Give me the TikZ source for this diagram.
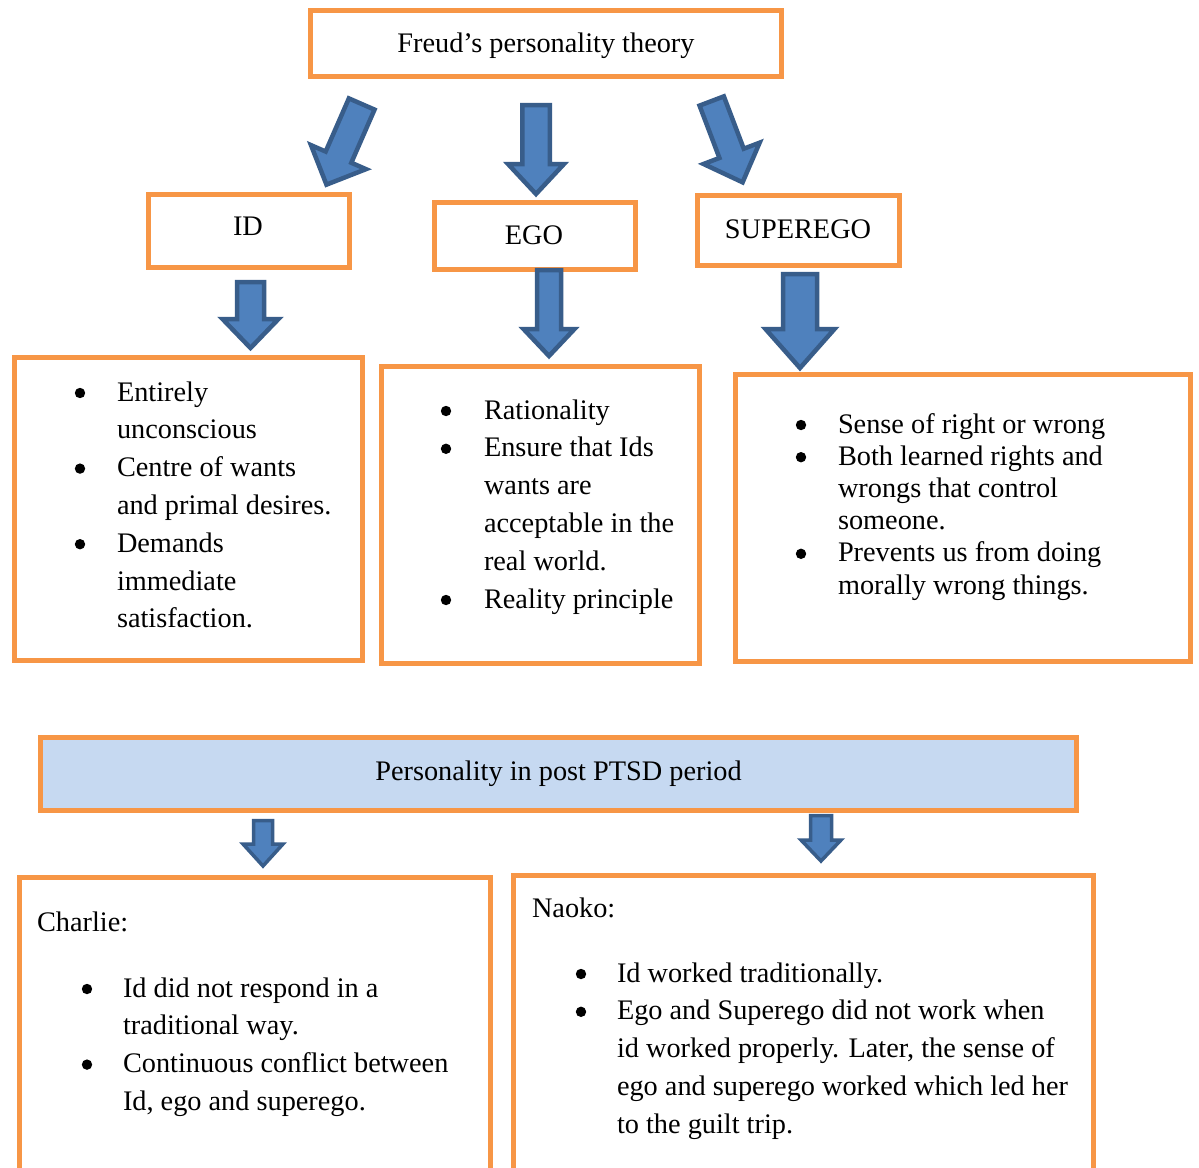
\documentclass[tikz,border=0pt]{standalone}
\usepackage{fontspec}
\setmainfont{Liberation Serif}
\definecolor{orng}{HTML}{F79646}
\definecolor{arrfill}{HTML}{4F81BD}
\definecolor{arrdraw}{HTML}{385D8A}
\definecolor{barfill}{HTML}{C6D9F1}
\newcommand\blockarr[9]{% name, x, y, angle, L, sw, hw, hl, lw
  \begin{scope}[shift={(#2,#3)},rotate=#4]
    \coordinate (#1-tail) at (0,0);
    \coordinate (#1-tip) at (#5,0);
    \draw[arrowsty,line width=#9pt] (0,#6/2) -- (#5-#8,#6/2) -- (#5-#8,#7/2) -- (#1-tip)
      -- (#5-#8,-#7/2) -- (#5-#8,-#6/2) -- (0,-#6/2) -- cycle;
  \end{scope}}
\begin{document}
\begin{tikzpicture}[x=1pt,y=-1pt,
  box/.style={draw=orng,line width=5pt,inner sep=0pt,outer sep=0pt,anchor=north west},
  arrowsty/.style={fill=arrfill,draw=arrdraw,line join=miter},
  dot/.style={fill=black},
  txt/.style={inner sep=0pt,outer sep=0pt,font=\fontsize{28.3}{37.8}\selectfont}]
\useasboundingbox (0,0) rectangle (1199,1167);
\fill[white] (0,0) rectangle (1199,1167);

% top level
\node[box,minimum width=471pt,minimum height=66pt] (freud) at (310,10) {};
\node[txt,anchor=base] (freudt) at (546,52) {Freud’s personality theory};

% arrows from top
\blockarr{a1}{361.7}{104}{246.4}{88}{28}{60}{30}{4.5}
\blockarr{a2}{536}{105}{270}{89}{27.5}{56}{30}{4.5}
\blockarr{a3}{711.7}{101}{290.8}{87}{26}{60}{31}{4.5}

% second level
\node[box,minimum width=201pt,minimum height=73pt] (id) at (148,194) {};
\node[txt,anchor=base] (idt) at (248,235) {ID};
\node[box,minimum width=201pt,minimum height=67pt] (ego) at (434,202) {};
\node[txt,anchor=base] (egot) at (534,244) {EGO};
\node[box,minimum width=202pt,minimum height=70pt] (sup) at (697,195) {};
\node[txt,anchor=base] (supt) at (798,238) {SUPEREGO};

% arrows down
\blockarr{b1}{250.5}{282}{270}{66}{27}{56}{29}{4.5}
\blockarr{b2}{549}{270}{270}{86}{24}{51}{27}{4.5}
\blockarr{b3}{800}{274}{270}{94}{34}{69}{39}{4.5}

% content boxes
\node[box,minimum width=348pt,minimum height=303pt] (idc) at (14,357) {};
\node[txt,anchor=base west] (idct) at (117,401) {\begin{tabular}[t]{@{}l@{}}
Entirely\\ unconscious\\ Centre of wants\\ and primal desires.\\ Demands\\ immediate\\ satisfaction.\end{tabular}};
\foreach \yy in {393,468.6,544.2} \fill[dot] (80,\yy) circle (5.2);

\node[box,minimum width=318pt,minimum height=297pt] (egoc) at (381,366) {};
\node[txt,anchor=base west] (egoct) at (484,419) {\begin{tabular}[t]{@{}l@{}}
Rationality\\ Ensure that Ids\\ wants are\\ acceptable in the\\ real world.\\ Reality principle\end{tabular}};
\foreach \yy in {411,448.8,600} \fill[dot] (446,\yy) circle (5.2);

\node[box,minimum width=455pt,minimum height=287pt] (supc) at (735,374) {};
\node[txt,anchor=base west,font=\fontsize{28.3}{32.2}\selectfont] (supct) at (838,433) {\begin{tabular}[t]{@{}l@{}}
Sense of right or wrong\\ Both learned rights and\\ wrongs that control\\ someone.\\ Prevents us from doing\\ morally wrong things.\end{tabular}};
\foreach \yy in {425,457.2,553.8} \fill[dot] (801,\yy) circle (5.2);

% PTSD bar
\node[box,fill=barfill,minimum width=1036pt,minimum height=73pt] (ptsd) at (40,737) {};
\node[txt,anchor=base] (ptsdt) at (558.5,780) {Personality in post PTSD period};

% small arrows
\blockarr{c1}{263}{820.5}{270}{45.5}{19}{40}{22}{3.5}
\blockarr{c2}{821}{815.5}{270}{45.5}{21}{40}{21}{3.5}

% bottom boxes (open at the page edge)
\coordinate (ch-bl) at (19,1172);
\coordinate (ch-tl) at (19,877);
\coordinate (ch-tr) at (490,877);
\coordinate (ch-br) at (490,1172);
\draw[draw=orng,line width=5pt] (ch-bl) -- (ch-tl) -- (ch-tr) -- (ch-br);
\node[txt,anchor=base west] (cht) at (37,931) {Charlie:};
\node[txt,anchor=base west] (chl) at (123,997) {\begin{tabular}[t]{@{}l@{}}
Id did not respond in a\\ traditional way.\\ Continuous conflict between\\ Id, ego and superego.\end{tabular}};
\foreach \yy in {989,1064.6} \fill[dot] (87,\yy) circle (5.2);

\coordinate (na-bl) at (513,1172);
\coordinate (na-tl) at (513,875);
\coordinate (na-tr) at (1093,875);
\coordinate (na-br) at (1093,1172);
\draw[draw=orng,line width=5pt] (na-bl) -- (na-tl) -- (na-tr) -- (na-br);
\node[txt,anchor=base west] (nat) at (532,917) {Naoko:};
\node[txt,anchor=base west] (nal) at (617,982) {\begin{tabular}[t]{@{}l@{}}
Id worked traditionally.\\ Ego and Superego did not work when\\ id worked properly. Later, the sense of\\ ego and superego worked which led her\\ to the guilt trip.\end{tabular}};
\foreach \yy in {974,1011.8} \fill[dot] (581,\yy) circle (5.2);
\end{tikzpicture}
\end{document}
